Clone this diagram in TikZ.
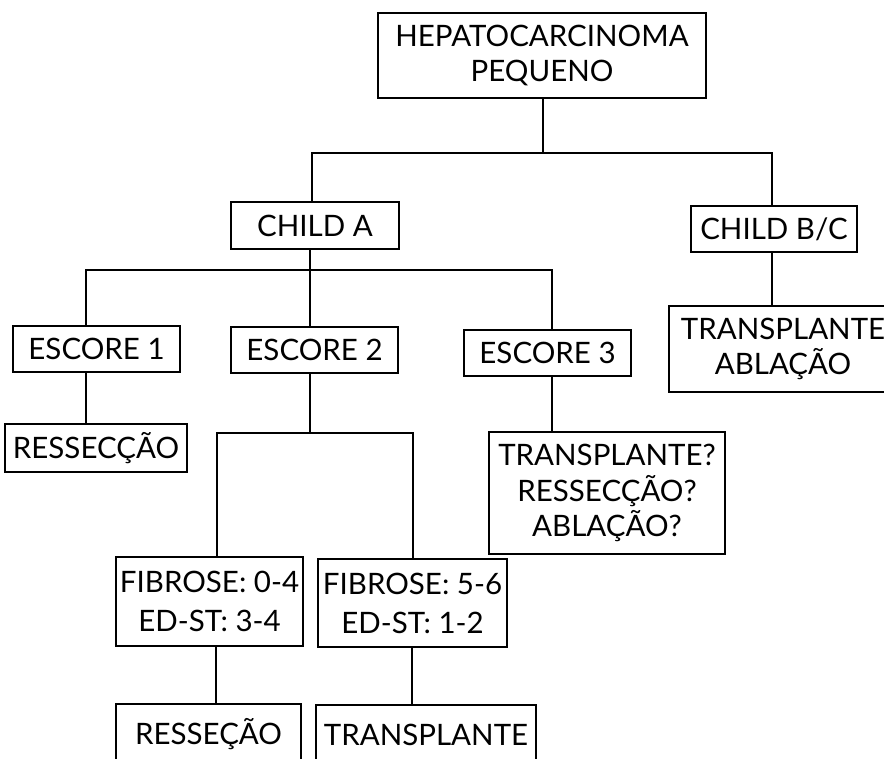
\documentclass[tikz,border=0pt]{standalone}
\usepackage{fontspec}
\setmainfont{Lato}
\begin{document}
\begin{tikzpicture}[x=1pt,y=-1pt,
  box/.style={draw, line width=2.6pt, rectangle, inner sep=0pt, align=center,
    font=\fontsize{29.5}{35.5}\selectfont},
  twoline/.style={font=\fontsize{29.5}{39}\selectfont},
  link/.style={line width=1.8pt}]
\useasboundingbox (0,0) rectangle (884,759);
\clip (0,0) rectangle (884,759);

% boxes
\node[box, minimum width=328, minimum height=85] (top)    at (542,55.5) {HEPATOCARCINOMA\\PEQUENO};
\node[box, minimum width=168, minimum height=47] (childA) at (315,225.5) {CHILD A};
\node[box, minimum width=166, minimum height=46] (childBC) at (774,229) {CHILD B/C};
\node[box, minimum width=228, minimum height=86] (tab)    at (783,349) {TRANSPLANTE\\ABLAÇÃO};
\node[box, minimum width=167, minimum height=46] (esc1)   at (96.5,349) {ESCORE 1};
\node[box, minimum width=167, minimum height=46] (esc2)   at (314.5,350) {ESCORE 2};
\node[box, minimum width=167, minimum height=46] (esc3)   at (547.5,353) {ESCORE 3};
\node[box, minimum width=182, minimum height=48] (res1)   at (96,448) {RESSECÇÃO};
\node[box, minimum width=236, minimum height=122] (opts)  at (607,493) {TRANSPLANTE?\\RESSECÇÃO?\\ABLAÇÃO?};
\node[box, twoline, minimum width=187, minimum height=89] (fib1) at (209.5,601.5) {FIBROSE: 0-4\\ED-ST: 3-4};
\node[box, twoline, minimum width=189, minimum height=88] (fib2) at (412.5,603) {FIBROSE: 5-6\\ED-ST: 1-2};
\node[box, minimum width=185, minimum height=60] (res2)   at (208.5,734) {RESSEÇÃO};
\node[box, minimum width=220, minimum height=60] (tr2)    at (426,735) {TRANSPLANTE};

% branch levels
\coordinate (h1) at (0,153);
\coordinate (h2) at (0,270);
\coordinate (h3) at (0,433);

% vertical connector lines
\coordinate (vtop) at (543,0);
\coordinate (vca)  at (312,0);
\coordinate (vcb)  at (772,0);
\coordinate (vcad) at (310,0);
\coordinate (ve1)  at (86,0);
\coordinate (ve2)  at (310,0);
\coordinate (ve3)  at (552,0);
\coordinate (vf1)  at (217,0);
\coordinate (vf2)  at (413,0);
\coordinate (vf1d) at (216,0);
\coordinate (vf2d) at (412,0);

% connectors
\draw[link] (top.south -| vtop) -- (h1 -| vtop);
\draw[link] (childA.north -| vca) |- (h1 -| vcb) -- (childBC.north -| vcb);
\draw[link] (childA.south -| vcad) -- (h2 -| vcad);
\draw[link] (esc1.north -| ve1) |- (h2 -| ve3) -- (esc3.north -| ve3);
\draw[link] (esc2.north -| ve2) -- (h2 -| ve2);
\draw[link] (esc1.south -| ve1) -- (res1.north -| ve1);
\draw[link] (esc2.south -| ve2) -- (h3 -| ve2);
\draw[link] (fib1.north -| vf1) |- (h3 -| vf2) -- (fib2.north -| vf2);
\draw[link] (esc3.south -| ve3) -- (opts.north -| ve3);
\draw[link] (childBC.south -| vcb) -- (tab.north -| vcb);
\draw[link] (fib1.south -| vf1d) -- (res2.north -| vf1d);
\draw[link] (fib2.south -| vf2d) -- (tr2.north -| vf2d);
\end{tikzpicture}
\end{document}
